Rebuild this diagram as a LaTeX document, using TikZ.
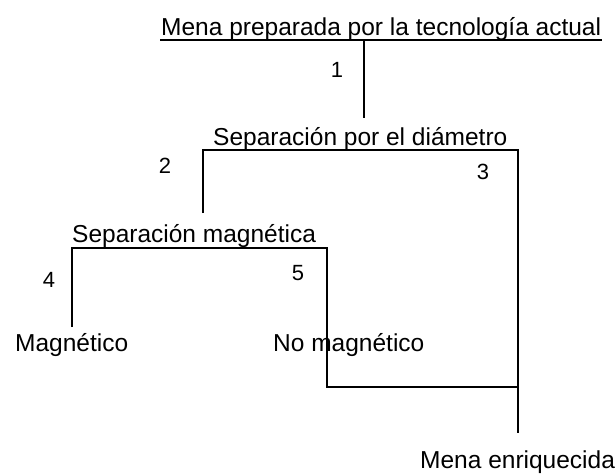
\documentclass[tikz,border=0pt]{standalone}
\usepackage{fontspec}
\setmainfont{Liberation Sans}
\begin{document}
\begin{tikzpicture}[x=1pt,y=-1pt,
  lbl/.style={anchor=base west,inner sep=0pt,font=\fontsize{24.5}{28}\selectfont},
  num/.style={inner sep=0pt,font=\fontsize{22}{26}\selectfont},
  ln/.style={line width=1.2pt}]
\useasboundingbox (0,0) rectangle (616,475);
% texts
\node[lbl] (top) at (161,35) {Mena preparada por la tecnología actual};
\node[lbl] (diam) at (213,145) {Separación por el diámetro};
\node[lbl] (mag) at (72,242) {Separación magnética};
\node[lbl] (magn) at (15,351) {Magnético};
\node[lbl] (nomag) at (273,351) {No magnético};
\node[lbl] (enr) at (420,468) {Mena enriquecida};
% numbers
\node[num] (n1) at (337,70) {1};
\node[num] (n2) at (165,166) {2};
\node[num] (n3) at (483,172) {3};
\node[num] (n4) at (49,280) {4};
\node[num] (n5) at (298,273) {5};
% junction coordinates
\coordinate (t1) at (160,40);
\coordinate (t2) at (602,40);
\coordinate (a1) at (364,40);
\coordinate (a2) at (364,118);
\coordinate (d1) at (203,150);
\coordinate (d2) at (518,150);
\coordinate (d3) at (203,213);
\coordinate (d4) at (518,433);
\coordinate (m1) at (71,248);
\coordinate (m2) at (327,248);
\coordinate (m3) at (72,327);
\coordinate (m4) at (327,387);
\coordinate (j) at (518,387);
% lines
\draw[ln] (t1) -- (t2);
\draw[ln] (a1) -- (a2);
\draw[ln] (d3) -- (d1) -- (d2) -- (d4);
\draw[ln] (m3) -- (m3 |- m1) -- (m1) -- (m2) -- (m4) -- (j);
\end{tikzpicture}
\end{document}
